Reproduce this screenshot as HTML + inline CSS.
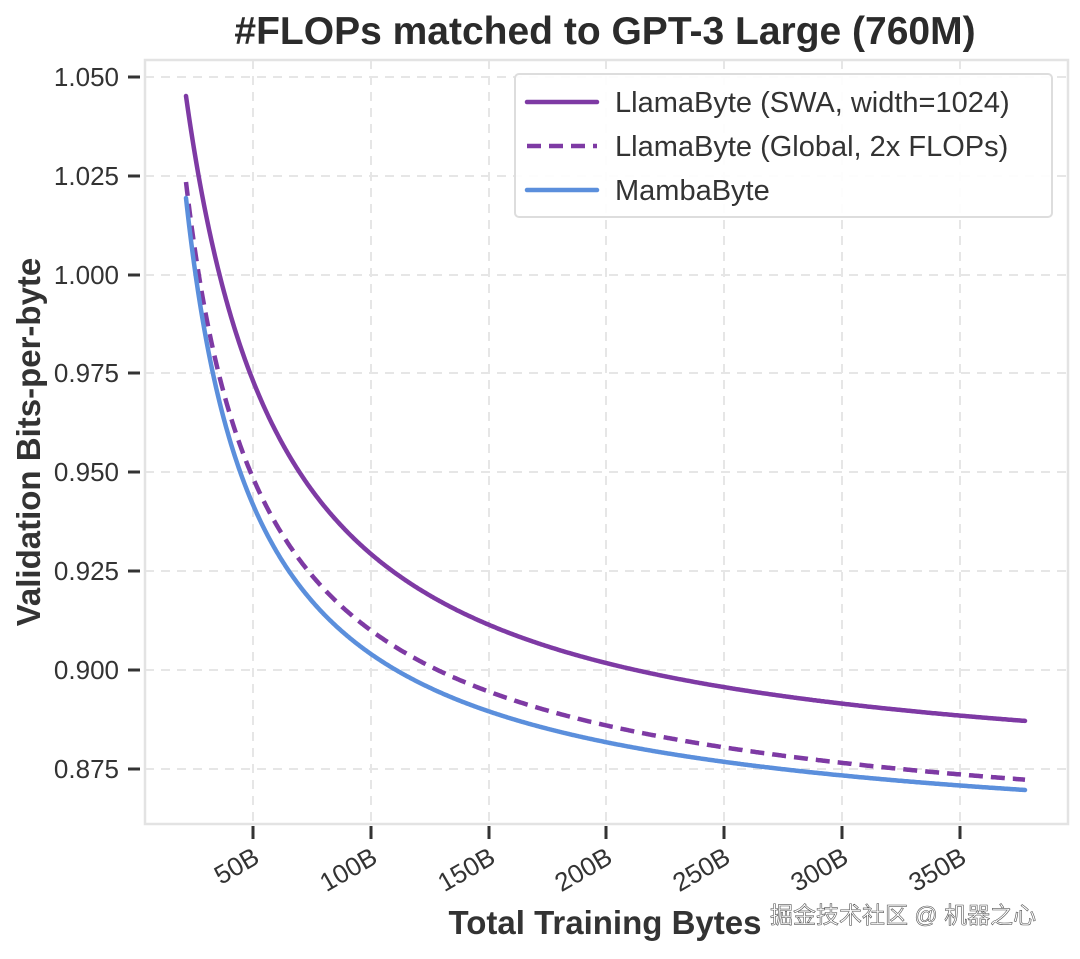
<!DOCTYPE html><html><head><style>body{margin:0;background:#fff}</style></head><body>
<svg width="1080" height="954" xmlns="http://www.w3.org/2000/svg" font-family="Liberation Sans, Noto Sans CJK SC, sans-serif">
<rect width="1080" height="954" fill="#fff"/>
<text x="605" y="44" text-anchor="middle" font-size="39" font-weight="bold" fill="#2b2b2b">#FLOPs matched to GPT-3 Large (760M)</text>
<g stroke="#e6e6e6" stroke-width="2" stroke-dasharray="9,7">
<line x1="145" x2="1068" y1="77" y2="77"/><line x1="145" x2="1068" y1="176" y2="176"/><line x1="145" x2="1068" y1="275" y2="275"/><line x1="145" x2="1068" y1="373" y2="373"/><line x1="145" x2="1068" y1="472" y2="472"/><line x1="145" x2="1068" y1="571" y2="571"/><line x1="145" x2="1068" y1="670" y2="670"/><line x1="145" x2="1068" y1="769" y2="769"/>
<line y1="60" y2="824" x1="253" x2="253"/><line y1="60" y2="824" x1="371" x2="371"/><line y1="60" y2="824" x1="489" x2="489"/><line y1="60" y2="824" x1="606" x2="606"/><line y1="60" y2="824" x1="724" x2="724"/><line y1="60" y2="824" x1="842" x2="842"/><line y1="60" y2="824" x1="960" x2="960"/>
</g>
<rect x="145" y="60" width="923" height="764" fill="none" stroke="#e3e3e3" stroke-width="2.5"/>
<g stroke="#333" stroke-width="3">
<line x1="128" x2="140" y1="77" y2="77"/><line x1="128" x2="140" y1="176" y2="176"/><line x1="128" x2="140" y1="275" y2="275"/><line x1="128" x2="140" y1="373" y2="373"/><line x1="128" x2="140" y1="472" y2="472"/><line x1="128" x2="140" y1="571" y2="571"/><line x1="128" x2="140" y1="670" y2="670"/><line x1="128" x2="140" y1="769" y2="769"/>
<line y1="826" y2="839" x1="253" x2="253"/><line y1="826" y2="839" x1="371" x2="371"/><line y1="826" y2="839" x1="489" x2="489"/><line y1="826" y2="839" x1="606" x2="606"/><line y1="826" y2="839" x1="724" x2="724"/><line y1="826" y2="839" x1="842" x2="842"/><line y1="826" y2="839" x1="960" x2="960"/>
</g>
<g font-size="26" fill="#333" text-anchor="end">
<text x="119" y="86">1.050</text><text x="119" y="185">1.025</text><text x="119" y="284">1.000</text><text x="119" y="382">0.975</text><text x="119" y="481">0.950</text><text x="119" y="580">0.925</text><text x="119" y="679">0.900</text><text x="119" y="778">0.875</text>
<text transform="translate(261,862) rotate(-30)">50B</text><text transform="translate(379,862) rotate(-30)">100B</text><text transform="translate(497,862) rotate(-30)">150B</text><text transform="translate(614,862) rotate(-30)">200B</text><text transform="translate(732,862) rotate(-30)">250B</text><text transform="translate(850,862) rotate(-30)">300B</text><text transform="translate(968,862) rotate(-30)">350B</text>
</g>
<text transform="translate(40,442) rotate(-90)" text-anchor="middle" font-size="33" font-weight="bold" fill="#333">Validation Bits-per-byte</text>
<text x="605" y="934" text-anchor="middle" font-size="33" font-weight="bold" fill="#333">Total Training Bytes</text>
<g fill="none" stroke-width="4.5" stroke-linejoin="round" stroke-linecap="round">
<path id="swa" stroke="#7e3aa4"/>
<path id="glb" stroke="#7e3aa4" stroke-dasharray="14,8" stroke-linecap="butt"/>
<path id="mam" stroke="#5b8fdc"/>
</g>
<rect x="515" y="74" width="537" height="143" fill="#fff" fill-opacity="0.9" stroke="#ddd" stroke-width="2" rx="4"/>
<g stroke-width="4.5" stroke-linecap="round">
<line x1="527" x2="597" y1="102" y2="102" stroke="#7e3aa4"/>
<line x1="527" x2="597" y1="146" y2="146" stroke="#7e3aa4" stroke-dasharray="14,8" stroke-linecap="butt"/>
<line x1="527" x2="597" y1="190" y2="190" stroke="#5b8fdc"/>
</g>
<g font-size="29" fill="#333">
<text x="615" y="112">LlamaByte (SWA, width=1024)</text>
<text x="615" y="156">LlamaByte (Global, 2x FLOPs)</text>
<text x="615" y="200">MambaByte</text>
</g>
<text x="770" y="923" font-size="23" fill="#fff" stroke="#555" stroke-width="0.6">掘金技术社区 @ 机器之心</text>
</svg>
<script>
function mk(id,Yi,d0,s,a){var d="";for(var p=0;p<=839;p+=1){var y=Yi-d0*Math.pow((p+s)/s,-a);d+=(p==0?"M":"L")+(186+p)+","+y.toFixed(1);}document.getElementById(id).setAttribute("d",d);}
mk("swa",790,694,100,1.03);
mk("glb",870,688,60,0.75);
mk("mam",860,662,60,0.83);
</script>
</body></html>
